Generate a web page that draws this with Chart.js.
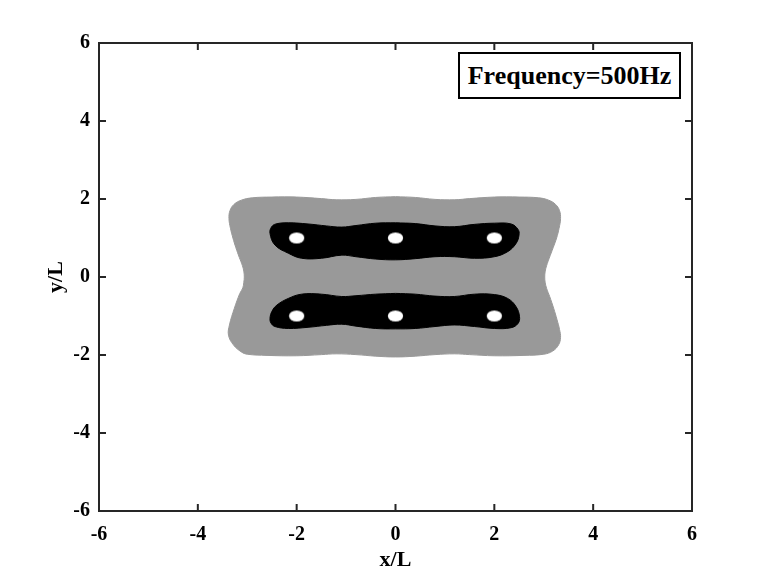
<!DOCTYPE html>
<html>
<head>
<meta charset="utf-8">
<script src="https://cdn.jsdelivr.net/npm/chart.js@4/dist/chart.umd.min.js"></script>
<style>
  body { margin: 0; background: #fff; }
  #wrap { position: relative; width: 766px; height: 575px; }
  #freqBox {
    position: absolute; left: 458px; top: 52px; width: 219px; height: 43px;
    border: 2px solid #000; background: #fff;
    font: bold 26px "Liberation Serif", "Times New Roman", serif;
    line-height: 43px; text-align: center; color: #000;
  }
</style>
</head>
<body>
<div id="wrap">
  <canvas id="plot" width="766" height="575"></canvas>
  <div id="freqBox">Frequency=500Hz</div>
</div>
<script>
// tick values for both axes
const xTicks = [-6, -4, -2, 0, 2, 4, 6];
const yTicks = [-6, -4, -2, 0, 2, 4, 6];

// outer (gray) contour, starting at the top centre
const grayX = [0.00, 0.40, 0.80, 1.20, 1.50, 2.00, 2.50, 2.90, 3.10, 3.24, 3.32, 3.34, 3.31, 3.26, 3.19, 3.11, 3.06, 3.03, 3.02,
  3.03, 3.06, 3.12, 3.20, 3.27, 3.32, 3.34, 3.30, 3.18, 3.00, 2.60, 2.00, 1.50, 1.20, 0.80, 0.40, 0.00,
  -0.40, -0.80, -1.20, -1.50, -2.00, -2.60, -3.00, -3.12, -3.28, -3.38, -3.36, -3.26, -3.15, -3.09, -3.07, -3.06,
  -3.07, -3.10, -3.16, -3.23, -3.29, -3.34, -3.37, -3.35, -3.27, -3.12, -2.90, -2.50, -2.00, -1.50, -1.20, -0.80, -0.40, 0.00];
const grayY = [2.06, 2.04, 1.99, 1.98, 2.01, 2.05, 2.05, 2.03, 1.97, 1.86, 1.70, 1.50, 1.25, 1.00, 0.75, 0.48, 0.30, 0.15, 0.00,
  -0.15, -0.30, -0.50, -0.80, -1.10, -1.35, -1.55, -1.74, -1.90, -1.98, -2.01, -2.02, -1.99, -1.97, -1.99, -2.03, -2.05,
  -2.03, -1.99, -1.97, -1.99, -2.02, -2.01, -1.98, -1.92, -1.74, -1.49, -1.23, -0.80, -0.42, -0.28, -0.14, 0.00,
  0.15, 0.30, 0.50, 0.75, 1.00, 1.25, 1.50, 1.70, 1.86, 1.97, 2.03, 2.05, 2.05, 2.01, 1.98, 1.99, 2.04, 2.06];

// upper black band
const upperX = [0.00, 0.40, 0.80, 1.19, 1.60, 2.00, 2.34, 2.48, 2.50, 2.44, 2.27, 2.00, 1.60, 1.19, 0.80, 0.40, 0.00,
  -0.40, -0.80, -1.09, -1.50, -1.90, -2.17, -2.44, -2.54, -2.51, -2.42, -2.17, -1.77, -1.40, -1.09, -0.80, -0.40, 0.00];
const upperY = [1.39, 1.37, 1.31, 1.29, 1.35, 1.38, 1.36, 1.22, 1.08, 0.86, 0.65, 0.52, 0.48, 0.52, 0.52, 0.47, 0.44,
  0.46, 0.52, 0.56, 0.48, 0.48, 0.61, 0.82, 1.12, 1.28, 1.36, 1.39, 1.36, 1.31, 1.28, 1.32, 1.38, 1.39];

// lower black band
const lowerX = [0.00, 0.40, 0.80, 1.19, 1.60, 2.00, 2.27, 2.44, 2.51, 2.48, 2.34, 2.00, 1.60, 1.19, 0.80, 0.40, 0.00,
  -0.40, -0.80, -1.09, -1.40, -1.77, -2.17, -2.44, -2.52, -2.54, -2.50, -2.40, -2.17, -1.90, -1.50, -1.09, -0.80, -0.40, 0.00];
const lowerY = [-0.42, -0.44, -0.49, -0.50, -0.44, -0.45, -0.55, -0.76, -1.02, -1.19, -1.30, -1.32, -1.27, -1.23, -1.27, -1.32, -1.33,
  -1.32, -1.26, -1.21, -1.24, -1.29, -1.32, -1.27, -1.18, -1.06, -0.88, -0.72, -0.55, -0.44, -0.44, -0.50, -0.48, -0.44, -0.42];

// source positions (white spots)
const srcX = [-2, 0, 2, -2, 0, 2];
const srcY = [1, 1, 1, -1, -1, -1];

function pts(xs, ys) {
    return xs.map((x, i) => ({ x: x, y: ys[i] }));
}

// elliptical white marker
const spot = document.createElement('canvas');
spot.width = 17; spot.height = 13;
const sctx = spot.getContext('2d');
sctx.fillStyle = '#fff';
sctx.beginPath();
sctx.ellipse(8.5, 6.5, 7.6, 5.6, 0, 0, Math.PI * 2);
sctx.fill();

const serif = '"Liberation Serif", "Times New Roman", serif';

// box around the plot with inward ticks on all four sides
const frame = {
    id: 'frame',
    afterDraw(chart) {
        const ctx = chart.ctx;
        const a = chart.chartArea;
        const xs = chart.scales.x, ys = chart.scales.y;
        ctx.save();
        ctx.strokeStyle = '#262626';
        ctx.lineWidth = 2;
        ctx.strokeRect(a.left, a.top, a.right - a.left, a.bottom - a.top);
        ctx.beginPath();
        xTicks.forEach(v => {
            const p = xs.getPixelForValue(v);
            ctx.moveTo(p, a.bottom); ctx.lineTo(p, a.bottom - 7);
            ctx.moveTo(p, a.top); ctx.lineTo(p, a.top + 7);
        });
        yTicks.forEach(v => {
            const p = ys.getPixelForValue(v);
            ctx.moveTo(a.left, p); ctx.lineTo(a.left + 7, p);
            ctx.moveTo(a.right, p); ctx.lineTo(a.right - 7, p);
        });
        ctx.stroke();
        ctx.restore();
    }
};

function band(label, xs, ys, color, order) {
    return {
        label: label,
        data: pts(xs, ys),
        showLine: true,
        fill: 'shape',
        tension: 0.4,
        backgroundColor: color,
        borderColor: color,
        borderWidth: 1,
        pointRadius: 0,
        order: order
    };
}

const ctx = document.getElementById('plot').getContext('2d');
new Chart(ctx, {
    type: 'scatter',
    data: {
        datasets: [
            band('outer', grayX, grayY, 'rgb(153,153,153)', 3),
            band('upper', upperX, upperY, '#000', 2),
            band('lower', lowerX, lowerY, '#000', 2),
            {
                label: 'sources',
                data: pts(srcX, srcY),
                pointStyle: spot,
                pointRadius: 8,
                order: 1
            }
        ]
    },
    options: {
        responsive: false,
        animation: false,
        layout: { padding: { top: 43, right: 74, left: 0, bottom: 0 } },
        plugins: {
            legend: { display: false },
            tooltip: { enabled: false }
        },
        scales: {
            x: {
                type: 'linear',
                min: -6, max: 6,
                afterFit: s => { s.height = 64; },
                afterBuildTicks: s => { s.ticks = xTicks.map(v => ({ value: v })); },
                grid: { display: false, drawTicks: false },
                border: { display: false },
                ticks: { color: '#000', padding: 12, maxRotation: 0, font: { family: serif, size: 20, weight: 'bold' } },
                title: { display: true, text: 'x/L', color: '#000', padding: { top: 0, bottom: 1 }, font: { family: serif, size: 22, weight: 'bold' } }
            },
            y: {
                type: 'linear',
                min: -6, max: 6,
                afterFit: s => { s.width = 99; },
                afterBuildTicks: s => { s.ticks = yTicks.map(v => ({ value: v })); },
                grid: { display: false, drawTicks: false },
                border: { display: false },
                ticks: { color: '#000', padding: 9, font: { family: serif, size: 20, weight: 'bold' } },
                title: { display: true, text: 'y/L', color: '#000', padding: { top: 43, bottom: 0 }, font: { family: serif, size: 22, weight: 'bold' } }
            }
        }
    },
    plugins: [frame]
});
</script>
</body>
</html>
